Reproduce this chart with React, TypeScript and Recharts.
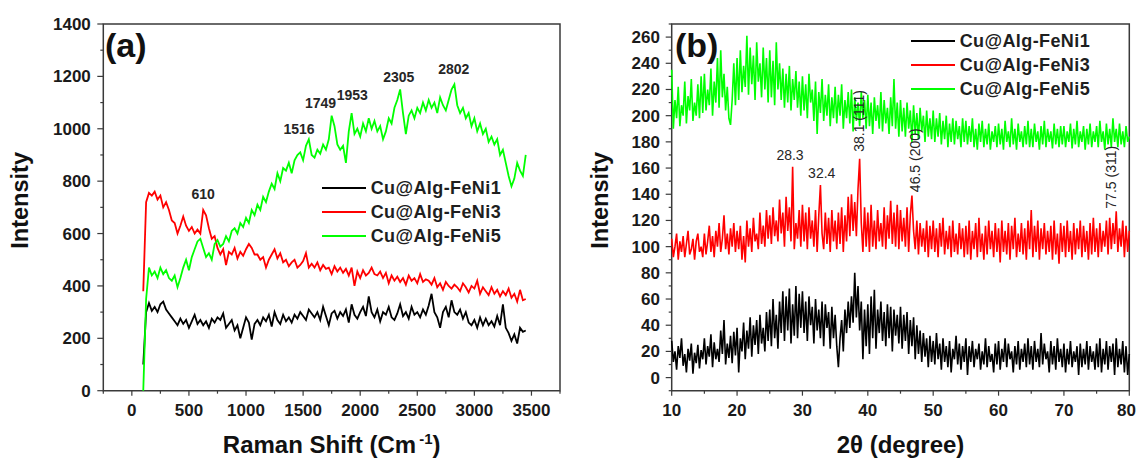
import {
  LineChart,
  Line,
  XAxis,
  YAxis,
  ReferenceArea,
  ReferenceDot,
  Legend,
  Label,
} from "recharts";

const FONT = '"Liberation Sans", Arial, Helvetica, sans-serif';
const FRAME = "#3a3a3a";
const SERIES = ["Cu@Alg-FeNi1", "Cu@Alg-FeNi3", "Cu@Alg-FeNi5"];
const COLORS = ["#000000", "#ff0000", "#00ff00"];

// (a) Raman, sampled every 25 cm-1 from 100
const ramanStart = 100;
const ramanStep = 25;
const ramanFeNi1 = [
  100, 300, 335, 305, 320, 300, 330, 340, 310, 295,
  280, 265, 250, 275, 255, 270, 240, 265, 290, 255,
  270, 250, 265, 240, 275, 260, 280, 270, 295, 240,
  255, 270, 230, 250, 200, 240, 280, 260, 195, 255,
  270, 250, 280, 265, 290, 245, 300, 270, 255, 290,
  265, 280, 260, 290, 275, 300, 285, 270, 310, 295,
  280, 300, 270, 320, 285, 250, 295, 305, 275, 300,
  285, 310, 260, 330, 290, 275, 300, 320, 285, 360,
  300, 280, 310, 265, 300, 290, 320, 280, 270, 295,
  330, 285, 300, 275, 320, 290, 300, 280, 310, 290,
  325, 370, 300, 280, 240, 300, 320, 280, 345, 300,
  290, 310, 275, 300, 260, 250, 270, 240, 280, 250,
  275, 250, 265, 245, 285, 250, 330, 240, 220, 190,
  215, 180, 240, 225, 230,
];
const ramanFeNi3 = [
  380, 720, 755, 745, 760, 730, 745, 700, 720, 690,
  650, 640, 600, 630, 665, 630, 610, 625, 600, 615,
  600, 690, 670, 620, 580, 590, 545, 520, 540, 480,
  530, 520, 545, 505, 530, 515, 540, 560, 545, 520,
  520, 500, 510, 470, 500, 520, 540, 505, 525, 490,
  500, 475, 490, 500, 470, 480, 495, 525, 470, 485,
  470, 490, 460, 480, 465, 470, 445, 475, 455, 470,
  450, 465, 440, 470, 400, 455, 430, 460, 440, 450,
  470, 445, 440, 455, 430, 450, 410, 440, 420, 435,
  415, 430, 405, 440, 420, 430, 410, 445, 415, 425,
  420, 405, 430, 395, 410, 385, 415, 400, 390, 405,
  395, 380, 410, 395, 375, 400, 390, 420, 370, 395,
  380, 365, 395, 370, 385, 360, 380, 365, 390, 355,
  370, 340, 385, 345, 350,
];
const ramanFeNi5 = [
  0, 350, 470, 440, 455, 430, 470, 445, 460, 430,
  420, 440, 395, 430, 470, 500, 460, 510, 540, 570,
  580, 545, 510, 525, 500, 560, 575, 550, 560, 590,
  570, 610, 620, 600, 640, 625, 660, 640, 690, 670,
  710, 690, 740, 720, 760, 790, 770, 830, 800, 850,
  840, 870, 830, 880, 900, 910, 880, 935, 960, 900,
  890, 920, 905, 940, 920, 960, 1050, 1010, 940, 920,
  935, 870, 990, 1060, 980, 1000, 970, 1020, 990, 1040,
  1000, 1030, 990, 1010, 960, 990, 1040, 1020, 1080, 1110,
  1150, 1060, 980, 1050, 1070, 1040, 1080, 1060, 1100, 1070,
  1110, 1080, 1100, 1060, 1120, 1090, 1070, 1110, 1150, 1170,
  1090, 1060, 1080, 1040, 1060, 1010, 1040, 990, 1020, 980,
  1000, 950, 970, 940, 960, 900, 920, 870, 820, 780,
  810, 870, 840, 820, 900,
];
const ramanTicksX = [-250, 0, 250, 500, 750, 1000, 1250, 1500, 1750, 2000, 2250, 2500, 2750, 3000, 3250, 3500, 3750];
const ramanLabelsX = [0, 500, 1000, 1500, 2000, 2500, 3000, 3500];
const ramanTicksY = [0, 100, 200, 300, 400, 500, 600, 700, 800, 900, 1000, 1100, 1200, 1300, 1400];
const ramanLabelsY = [0, 200, 400, 600, 800, 1000, 1200, 1400];
const ramanPeakText = ["610", "1516", "1749", "1953", "2305", "2802"];
const ramanPeakX = [625, 1464, 1653, 1931, 2338, 2820];
const ramanPeakY = [751, 999, 1100, 1129, 1197, 1228];

// (b) XRD, sampled every 0.25 degree from 10 (one row = 5 degrees)
const xrdStart = 10;
const xrdStep = 0.25;
const xrdFeNi1 = [
  28, 12, 20, 6, 24, 15, 30, 9, 18, 4, 22, 13, 26, 3, 19, 11, 25, 7, 21, 14,
  30, 10, 24, 16, 33, 8, 27, 14, 22, 12, 36, 18, 44, 10, 26, 15, 32, 11, 35, 17,
  38, 4, 30, 20, 42, 14, 36, 22, 46, 16, 40, 25, 44, 18, 48, 26, 38, 20, 50, 28,
  52, 24, 60, 30, 48, 22, 58, 34, 66, 28, 62, 36, 68, 26, 56, 32, 70, 30, 64, 38,
  66, 34, 58, 28, 62, 40, 54, 26, 60, 36, 52, 30, 58, 24, 56, 38, 50, 22, 54, 30,
  48, 24, 8, 30, 44, 20, 52, 34, 58, 38, 62, 42, 80, 46, 70, 36, 58, 14, 52, 24,
  56, 18, 62, 30, 67, 22, 52, 34, 58, 28, 50, 24, 56, 30, 54, 20, 52, 32, 48, 26,
  54, 22, 48, 28, 50, 18, 44, 24, 46, 14, 40, 18, 36, 12, 34, 16, 30, 8, 32, 12,
  28, 10, 34, 14, 26, 6, 30, 12, 24, 8, 28, 4, 22, 14, 32, 10, 26, 6, 24, 12,
  30, 2, 24, 12, 28, 8, 22, 14, 26, 6, 20, 10, 30, 8, 24, 12, 18, 4, 26, 10,
  28, 6, 22, 12, 30, 8, 26, 14, 20, 4, 24, 10, 28, 6, 22, 12, 26, 8, 30, 10,
  24, 6, 28, 12, 22, 8, 34, 10, 26, 14, 20, 4, 28, 10, 24, 6, 30, 12, 22, 8,
  26, 4, 22, 10, 28, 8, 20, 12, 24, 2, 26, 8, 22, 10, 28, 6, 24, 12, 20, 6,
  26, 8, 30, 4, 22, 10, 28, 6, 24, 12, 26, 2, 30, 8, 22, 10, 28, 4, 24, 2,
  18,
];
const xrdFeNi3 = [
  106, 92, 100, 110, 90, 104, 96, 108, 92, 102, 112, 94, 98, 106, 90, 104, 110, 96, 100, 92,
  110, 94, 104, 116, 96, 108, 92, 112, 100, 118, 96, 106, 124, 98, 110, 94, 114, 100, 118, 96,
  112, 98, 116, 90, 108, 88, 120, 100, 114, 96, 122, 104, 110, 98, 126, 102, 116, 100, 128, 106,
  124, 102, 130, 108, 120, 104, 136, 110, 126, 100, 138, 112, 130, 104, 161, 98, 118, 106, 128, 100,
  132, 104, 126, 98, 130, 106, 120, 100, 128, 96, 124, 147, 110, 98, 126, 102, 122, 96, 128, 104,
  120, 98, 126, 102, 130, 96, 124, 104, 138, 108, 140, 112, 134, 108, 144, 167, 118, 96, 130, 100,
  126, 96, 132, 100, 120, 98, 128, 104, 118, 100, 130, 98, 124, 106, 135, 102, 126, 100, 132, 98,
  128, 104, 122, 100, 130, 96, 124, 139, 112, 98, 120, 94, 118, 100, 114, 96, 120, 92, 116, 98,
  120, 96, 114, 92, 118, 100, 122, 94, 112, 98, 116, 92, 120, 96, 110, 94, 118, 98, 114, 92,
  116, 94, 120, 90, 112, 98, 118, 92, 122, 96, 110, 90, 116, 94, 120, 98, 112, 92, 118, 96,
  114, 88, 120, 96, 112, 94, 118, 90, 116, 98, 122, 92, 110, 96, 118, 94, 114, 90, 120, 98,
  128, 92, 116, 96, 120, 90, 114, 98, 118, 94, 112, 96, 116, 90, 120, 94, 110, 87, 118, 96,
  116, 92, 120, 96, 112, 90, 118, 94, 114, 98, 120, 92, 116, 96, 112, 90, 118, 94, 122, 96,
  114, 92, 118, 96, 112, 100, 120, 94, 122, 98, 118, 102, 127, 96, 114, 100, 120, 92, 116, 96,
  112,
];
const xrdFeNi5 = [
  235, 190, 212, 198, 222, 192, 208, 200, 226, 194, 215, 204, 228, 196, 210, 200, 224, 198, 230, 202,
  232, 204, 220, 208, 236, 200, 226, 210, 244, 206, 250, 214, 232, 204, 222, 198, 193, 212, 240, 208,
  244, 212, 250, 218, 238, 222, 261, 216, 252, 224, 246, 212, 256, 226, 240, 214, 252, 220, 244, 210,
  250, 214, 242, 208, 256, 220, 240, 212, 236, 206, 232, 210, 238, 204, 228, 212, 234, 206, 226, 200,
  230, 204, 224, 198, 232, 210, 220, 196, 226, 186, 218, 202, 228, 196, 216, 200, 224, 192, 214, 198,
  222, 194, 216, 200, 224, 190, 212, 198, 218, 194, 220, 188, 214, 196, 210, 192, 218, 198, 212, 190,
  216, 192, 210, 186, 214, 196, 208, 190, 218, 188, 212, 194, 206, 186, 214, 192, 228, 190, 210, 184,
  212, 188, 206, 184, 210, 190, 204, 180, 208, 186, 202, 182, 206, 188, 200, 180, 204, 184, 198, 182,
  204, 180, 198, 184, 202, 178, 196, 182, 200, 176, 194, 180, 198, 178, 196, 182, 192, 176, 198, 180,
  196, 178, 192, 180, 198, 176, 190, 174, 194, 180, 196, 176, 190, 178, 194, 174, 188, 180, 192, 176,
  194, 178, 190, 174, 196, 180, 188, 176, 198, 178, 190, 174, 194, 180, 188, 176, 192, 178, 196, 176,
  190, 176, 194, 180, 188, 174, 192, 178, 196, 176, 190, 180, 188, 175, 194, 178, 190, 176, 192, 178,
  192, 176, 188, 180, 194, 175, 190, 178, 196, 176, 188, 180, 192, 174, 190, 178, 194, 176, 188, 180,
  192, 176, 196, 180, 188, 174, 194, 178, 190, 176, 198, 180, 190, 176, 194, 178, 188, 176, 192, 180,
  184,
];
const xrdTicksX = [10, 15, 20, 25, 30, 35, 40, 45, 50, 55, 60, 65, 70, 75, 80];
const xrdLabelsX = [10, 20, 30, 40, 50, 60, 70, 80];
const xrdTicksY = [-10, 0, 10, 20, 30, 40, 50, 60, 70, 80, 90, 100, 110, 120, 130, 140, 150, 160, 170, 180, 190, 200, 210, 220, 230, 240, 250, 260, 270];
const xrdLabelsY = [0, 20, 40, 60, 80, 100, 120, 140, 160, 180, 200, 220, 240, 260];
const xrdPeakText = ["28.3", "32.4", "38.1 (111)", "46.5 (200)", "77.5 (311)"];
const xrdPeakX = [28.1, 32.95, 38.65, 47.2, 77.2];
const xrdPeakY = [170, 156, 196, 166, 153];
const xrdPeakVertical = [false, false, true, true, true];

const ramanData = ramanFeNi1.map((v, i) => ({
  x: ramanStart + i * ramanStep,
  s1: v,
  s3: ramanFeNi3[i],
  s5: ramanFeNi5[i],
}));
const xrdData = xrdFeNi1.map((v, i) => ({
  x: xrdStart + i * xrdStep,
  s1: v,
  s3: xrdFeNi3[i],
  s5: xrdFeNi5[i],
}));

const tickText = { fontFamily: FONT, fontWeight: 700, fontSize: 17, fill: "#1a1a1a" };

// tickSize/tickMargin are 0, so p.x / p.y sit on the axis line itself
function xTick(labels: number[], rightLimit: number) {
  return (p: any) => {
    const v = p.payload.value;
    const major = labels.includes(v);
    const clip = p.x + 10 > rightLimit;
    return (
      <g>
        <line x1={p.x} x2={p.x} y1={p.y} y2={p.y + (major ? 5 : 3)} stroke={FRAME} strokeWidth={1.2} />
        {major && (
          <text x={clip ? rightLimit - 1 : p.x} y={p.y + 25} textAnchor={clip ? "end" : "middle"} {...tickText}>
            {v}
          </text>
        )}
      </g>
    );
  };
}

function yTick(labels: number[], gap: number) {
  return (p: any) => {
    const v = p.payload.value;
    const major = labels.includes(v);
    return (
      <g>
        <line x1={p.x} x2={p.x - (major ? 6 : 3)} y1={p.y} y2={p.y} stroke={FRAME} strokeWidth={1.2} />
        {major && (
          <text x={p.x - gap} y={p.y + 6} textAnchor="end" {...tickText}>
            {v}
          </text>
        )}
      </g>
    );
  };
}

const renderLegend = (props: any) => (
  <div style={{ fontFamily: FONT, fontWeight: 700, fontSize: 18, color: "#1e1e1e" }}>
    {(props.payload || []).map((p: any) => (
      <div key={p.value} style={{ display: "flex", alignItems: "center", height: 24 }}>
        <svg width={44} height={4} style={{ marginRight: 5 }}>
          <line x1={0} x2={44} y1={2} y2={2} stroke={p.color} strokeWidth={2.2} />
        </svg>
        <span style={{ letterSpacing: 0.4, lineHeight: "24px", whiteSpace: "nowrap" }}>{p.value}</span>
      </div>
    ))}
  </div>
);

function peakShape(text: string, vertical: boolean, bold: boolean) {
  return (p: any) => (
    <text
      x={p.cx}
      y={p.cy}
      textAnchor="middle"
      dominantBaseline="central"
      transform={vertical ? `rotate(-90, ${p.cx}, ${p.cy})` : undefined}
      fontFamily={FONT}
      fontWeight={bold ? 700 : 400}
      fontSize={14}
      fill="#262626"
    >
      {text}
    </text>
  );
}

function yTitle(offset: number) {
  return (p: any) => {
    const vb = p.viewBox;
    const cx = vb.x + vb.width + offset;
    const cy = vb.y + vb.height / 2 - 7;
    return (
      <text
        x={cx}
        y={cy}
        textAnchor="middle"
        transform={`rotate(-90, ${cx}, ${cy})`}
        fontFamily={FONT}
        fontWeight={700}
        fontSize={23.5}
        fill="#111"
      >
        Intensity
      </text>
    );
  };
}

const ramanXTitle = (p: any) => {
  const vb = p.viewBox;
  return (
    <text x={vb.x + vb.width / 2} y={vb.y + 62.3} textAnchor="middle" fontFamily={FONT} fontWeight={700} fontSize={24} fill="#111">
      Raman Shift (Cm
      <tspan dx={3} dy={-9} fontSize={15}>-1</tspan>
      <tspan dy={9}>)</tspan>
    </text>
  );
};

const xrdXTitle = (p: any) => {
  const vb = p.viewBox;
  return (
    <text x={vb.x + vb.width / 2} y={vb.y + 62.3} textAnchor="middle" fontFamily={FONT} fontWeight={700} fontSize={24} fill="#111">
      2θ (degree)
    </text>
  );
};

export default function App() {
  return (
    <div style={{ position: "absolute", left: 0, top: 0, width: 1137, height: 459, background: "#fff", overflow: "hidden" }}>
      <div style={{ position: "absolute", left: 0, top: 0 }}>
        <LineChart width={570} height={459} data={ramanData} margin={{ top: 24, right: 10, bottom: 38.3, left: 43.3 }}>
          <XAxis
            dataKey="x"
            type="number"
            domain={[-250, 3750]}
            ticks={ramanTicksX}
            interval={0}
            tickSize={0}
            tickMargin={0}
            tickLine={false}
            axisLine={false}
            height={30}
            tick={xTick(ramanLabelsX, 570)}
          >
            <Label content={ramanXTitle} />
          </XAxis>
          <YAxis
            type="number"
            domain={[0, 1400]}
            ticks={ramanTicksY}
            interval={0}
            tickSize={0}
            tickMargin={0}
            tickLine={false}
            axisLine={false}
            width={60}
            tick={yTick(ramanLabelsY, 12.5)}
          >
            <Label content={yTitle(-74.8)} />
          </YAxis>
          <ReferenceArea x1={-250} x2={3750} y1={0} y2={1400} fill="none" stroke={FRAME} strokeWidth={1.5} />
          <Line dataKey="s1" name={SERIES[0]} stroke={COLORS[0]} strokeWidth={1.8} dot={false} isAnimationActive={false} />
          <Line dataKey="s3" name={SERIES[1]} stroke={COLORS[1]} strokeWidth={1.8} dot={false} isAnimationActive={false} />
          <Line dataKey="s5" name={SERIES[2]} stroke={COLORS[2]} strokeWidth={1.8} dot={false} isAnimationActive={false} />
          {ramanPeakText.map((t, i) => (
            <ReferenceDot key={t} x={ramanPeakX[i]} y={ramanPeakY[i]} r={0} shape={peakShape(t, false, true)} />
          ))}
          <Legend
            layout="vertical"
            align="center"
            verticalAlign="middle"
            content={renderLegend}
            wrapperStyle={{ left: 321.7, top: 175.7, width: 200 }}
          />
        </LineChart>
      </div>
      <div style={{ position: "absolute", left: 570, top: 0 }}>
        <LineChart width={567} height={459} data={xrdData} margin={{ top: 24, right: 7.7, bottom: 38.3, left: 41.7 }}>
          <XAxis
            dataKey="x"
            type="number"
            domain={[10, 80]}
            ticks={xrdTicksX}
            interval={0}
            tickSize={0}
            tickMargin={0}
            tickLine={false}
            axisLine={false}
            height={30}
            tick={xTick(xrdLabelsX, 567)}
          >
            <Label content={xrdXTitle} />
          </XAxis>
          <YAxis
            type="number"
            domain={[-10, 270]}
            ticks={xrdTicksY}
            interval={0}
            tickSize={0}
            tickMargin={0}
            tickLine={false}
            axisLine={false}
            width={60}
            tick={yTick(xrdLabelsY, 11.8)}
          >
            <Label content={yTitle(-64)} />
          </YAxis>
          <ReferenceArea x1={10} x2={80} y1={-10} y2={270} fill="none" stroke={FRAME} strokeWidth={1.5} />
          <Line dataKey="s1" name={SERIES[0]} stroke={COLORS[0]} strokeWidth={1.6} dot={false} isAnimationActive={false} />
          <Line dataKey="s3" name={SERIES[1]} stroke={COLORS[1]} strokeWidth={1.6} dot={false} isAnimationActive={false} />
          <Line dataKey="s5" name={SERIES[2]} stroke={COLORS[2]} strokeWidth={1.6} dot={false} isAnimationActive={false} />
          {xrdPeakText.map((t, i) => (
            <ReferenceDot key={t} x={xrdPeakX[i]} y={xrdPeakY[i]} r={0} shape={peakShape(t, xrdPeakVertical[i], false)} />
          ))}
          <Legend
            layout="vertical"
            align="center"
            verticalAlign="middle"
            content={renderLegend}
            wrapperStyle={{ left: 340.7, top: 28.7, width: 200 }}
          />
        </LineChart>
      </div>
      <svg width={1137} height={459} style={{ position: "absolute", left: 0, top: 0, pointerEvents: "none" }}>
        <text x={105} y={56.5} fontFamily={FONT} fontWeight={700} fontSize={34} fill="#111">(a)</text>
        <text x={675} y={56.5} fontFamily={FONT} fontWeight={700} fontSize={34} fill="#111">(b)</text>
      </svg>
    </div>
  );
}
